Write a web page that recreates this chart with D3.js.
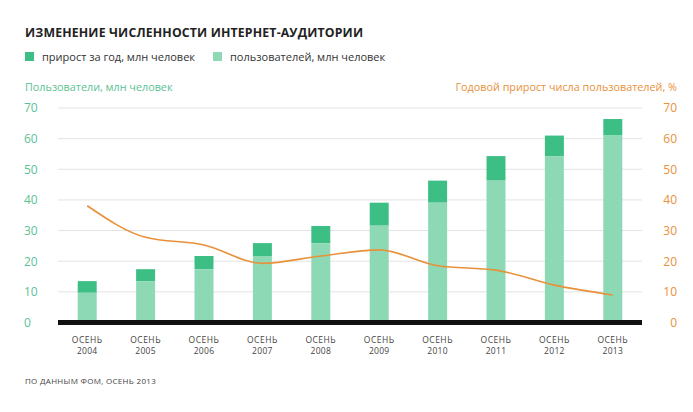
<!DOCTYPE html>
<html><head><meta charset="utf-8">
<script src="https://cdn.jsdelivr.net/npm/d3@7"></script>
<style>body{margin:0;background:#fff;} text{font-family:"Open Sans","Noto Sans",sans-serif;}</style>
</head><body>
<svg id="c" width="693" height="412"></svg>
<script>
const categories = ["2004","2005","2006","2007","2008","2009","2010","2011","2012","2013"];
const usersPrev  = [9.7, 13.5, 17.4, 21.7, 25.9, 31.6, 39.1, 46.3, 54.3, 61.0];
const usersTotal = [13.5, 17.4, 21.7, 25.9, 31.5, 39.1, 46.3, 54.3, 61.0, 66.4];
const growthPct  = [38.1, 27.8, 25.3, 19.3, 21.7, 23.7, 18.5, 17.1, 12.2, 9.0];
const yTicks = [0,10,20,30,40,50,60,70];

const svg = d3.select("#c");
const x = d3.scaleBand().domain(categories).range([58,642]).paddingInner(0.675).paddingOuter(0.3375);
const y = d3.scaleLinear().domain([0,70]).range([322.5,108]);
const yR = d3.scaleLinear().domain([0,70]).range([322.5,108]);

const cDark="#3dbe84", cLight="#8ed9b5", cOrange="#e8913a", cGreenText="#5cc196";

// title
svg.append("text").attr("x",25).attr("y",37).text("ИЗМЕНЕНИЕ ЧИСЛЕННОСТИ ИНТЕРНЕТ-АУДИТОРИИ")
  .attr("font-size",12.3).attr("font-weight",700).attr("fill","#222")
  .attr("textLength",338).attr("lengthAdjust","spacing")
  .attr("font-family","'DejaVu Sans Condensed',sans-serif");

// legend
const leg=[{t:"прирост за год, млн человек",c:cDark,x:25},{t:"пользователей, млн человек",c:cLight,x:213}];
leg.forEach(l=>{
  svg.append("rect").attr("x",l.x).attr("y",52).attr("width",9).attr("height",9).attr("fill",l.c);
  svg.append("text").attr("x",l.x+17).attr("y",61).text(l.t).attr("font-size",11).attr("fill","#333");
});

svg.append("text").attr("x",25).attr("y",91).text("Пользователи, млн человек").attr("font-size",10.8).attr("fill",cGreenText);
svg.append("text").attr("x",677).attr("y",91).attr("text-anchor","end").text("Годовой прирост числа пользователей, %").attr("font-size",10.8).attr("fill",cOrange);

// grid
svg.append("g").selectAll("line").data(yTicks.filter(d=>d>0)).join("line")
  .attr("x1",58).attr("x2",642).attr("y1",d=>y(d)).attr("y2",d=>y(d)).attr("stroke","#e3e3e3").attr("stroke-width",1);

// axes labels
const yl = d3.axisLeft(y).tickValues(yTicks).tickSize(0).tickPadding(0);
const gL = svg.append("g").attr("transform","translate(24,0)").call(yl);
gL.select(".domain").remove();
gL.selectAll("text").attr("text-anchor","start").attr("font-size",12).attr("fill",cGreenText).attr("font-family","'Open Sans',sans-serif");
const yr = d3.axisRight(yR).tickValues(yTicks).tickSize(0).tickPadding(0);
const gR = svg.append("g").attr("transform","translate(677,0)").call(yr);
gR.select(".domain").remove();
gR.selectAll("text").attr("text-anchor","end").attr("font-size",12).attr("fill",cOrange).attr("font-family","'Open Sans',sans-serif");

// bars
svg.append("g").selectAll("rect").data(categories).join("rect")
  .attr("x",d=>x(d)).attr("width",x.bandwidth())
  .attr("y",(d,i)=>y(usersTotal[i])).attr("height",(d,i)=>y(usersPrev[i])-y(usersTotal[i])).attr("fill",cDark);
svg.append("g").selectAll("rect").data(categories).join("rect")
  .attr("x",d=>x(d)).attr("width",x.bandwidth())
  .attr("y",(d,i)=>y(usersPrev[i])).attr("height",(d,i)=>y(0)-y(usersPrev[i])).attr("fill",cLight);

// baseline
svg.append("rect").attr("x",58).attr("width",584).attr("y",y(0)-2.5).attr("height",5).attr("fill","#111");

// line
const line = d3.line().x((d,i)=>x(categories[i])+x.bandwidth()/2).y(d=>yR(d)).curve(d3.curveMonotoneX);
svg.append("path").datum(growthPct).attr("d",line).attr("fill","none").attr("stroke",cOrange).attr("stroke-width",1.6);

// x labels
const gx = svg.append("g").selectAll("g").data(categories).join("g")
  .attr("transform",d=>`translate(${x(d)+x.bandwidth()/2},0)`);
gx.append("text").attr("y",343).attr("text-anchor","middle").text("ОСЕНЬ").attr("font-size",8.5).attr("letter-spacing",0.5).attr("fill","#444");
gx.append("text").attr("y",354).attr("text-anchor","middle").text(d=>d).attr("font-size",8.5).attr("letter-spacing",0.3).attr("fill","#444");

svg.append("text").attr("x",25).attr("y",384).text("ПО ДАННЫМ ФОМ, ОСЕНЬ 2013").attr("font-size",8).attr("letter-spacing",0.3).attr("fill","#444");
</script>
</body></html>
